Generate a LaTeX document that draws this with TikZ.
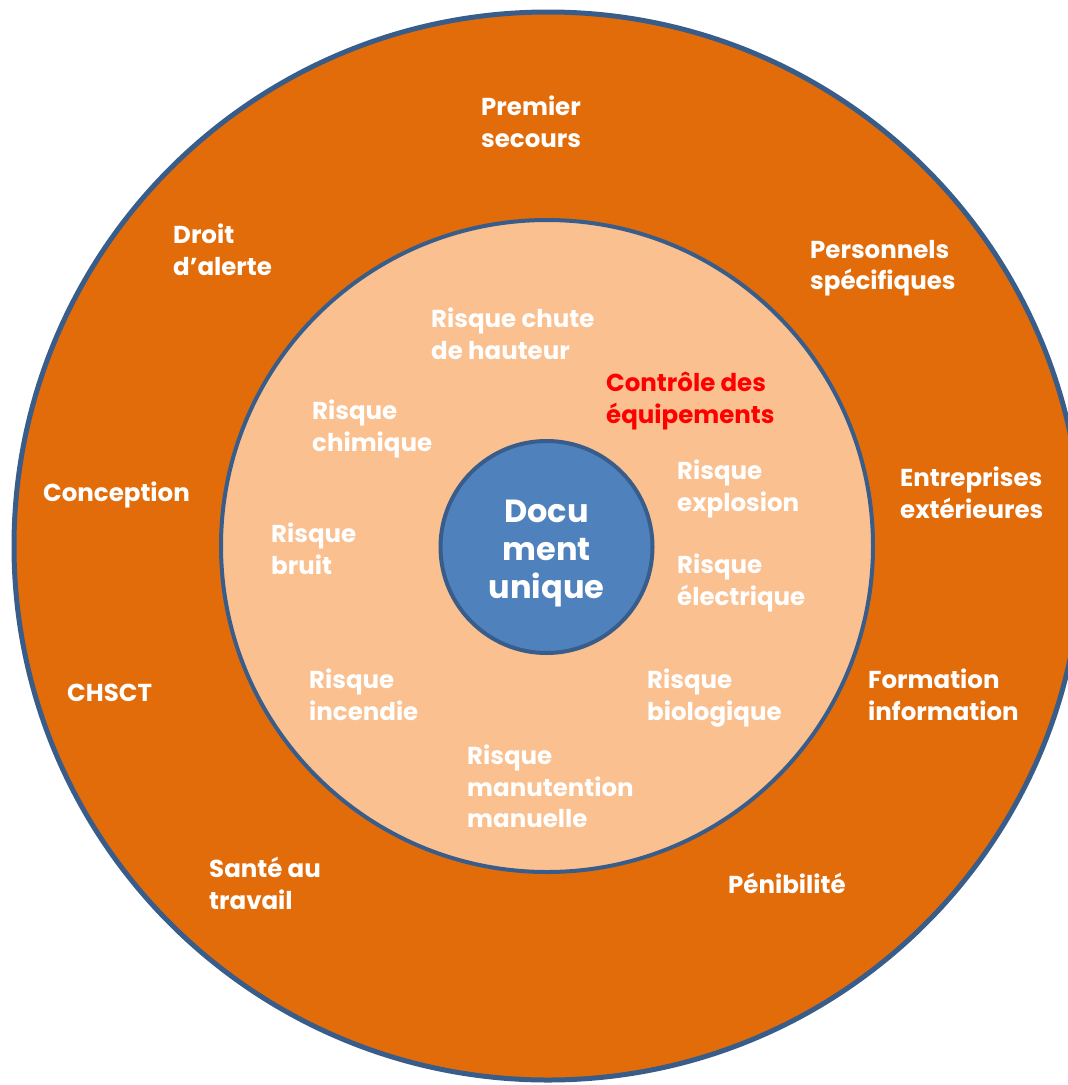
\documentclass[tikz,border=0pt]{standalone}
\usepackage{fontspec}
\setmainfont{Poppins}
\definecolor{ring}{HTML}{E36C0A}
\definecolor{innerfill}{HTML}{FAC090}
\definecolor{core}{HTML}{4F81BD}
\definecolor{edge}{HTML}{385D8A}
\begin{document}
\begin{tikzpicture}[x=1pt,y=-1pt,
  disc/.style={circle, draw=edge, inner sep=0pt},
  lbl/.style={anchor=north west, align=left, text=white, inner sep=0pt,
    font=\fontsize{24.5}{31.5}\selectfont\bfseries},
  redlbl/.style={lbl, text=red},
  corelbl/.style={anchor=north, align=center, text=white, inner sep=0pt,
    font=\fontsize{32}{38}\selectfont\bfseries}]
\path[use as bounding box] (0,0) rectangle (1068,1085);
\clip (0,0) rectangle (1068,1085);
\node[disc, fill=ring, line width=5pt, minimum size=1068pt] (outer) at (548,546) {};
\node[disc, fill=innerfill, line width=4pt, minimum size=652pt] (inner) at (547,546) {};
\node[disc, fill=core, line width=4pt, minimum size=212pt] (core) at (546.5,547) {};
% outer ring labels (north west corner = top of first line's text box)
\node[lbl] (premier) at (481,96) {Premier\\secours};
\node[lbl] (droit) at (173,224) {Droit\\d’alerte};
\node[lbl] (perso) at (810,240) {Personnels\\spécifiques};
\node[lbl] (concep) at (43,482) {Conception};
\node[lbl] (entre) at (900,467) {Entreprises\\extérieures};
\node[lbl] (chsct) at (67,684) {CHSCT};
\node[lbl] (forma) at (868,669) {Formation\\information};
\node[lbl] (sante) at (209,857) {Santé au\\travail};
\node[lbl] (penib) at (728,873) {Pénibilité};
% inner ring labels
\node[lbl] (chute) at (431,308) {Risque chute\\de hauteur};
\node[redlbl] (controle) at (606,372) {Contrôle des\\équipements};
\node[lbl] (chim) at (312,400) {Risque\\chimique};
\node[lbl] (explo) at (677,460) {Risque\\explosion};
\node[lbl] (bruit) at (271,523) {Risque\\bruit};
\node[lbl] (elec) at (677,554) {Risque\\électrique};
\node[lbl] (incend) at (309,669) {Risque\\incendie};
\node[lbl] (bio) at (647,669) {Risque\\biologique};
\node[lbl] (manut) at (467,745) {Risque\\manutention\\manuelle};
% core
\node[corelbl] (doc) at (546.5,500) {Docu\\ment\\unique};
\end{tikzpicture}
\end{document}
